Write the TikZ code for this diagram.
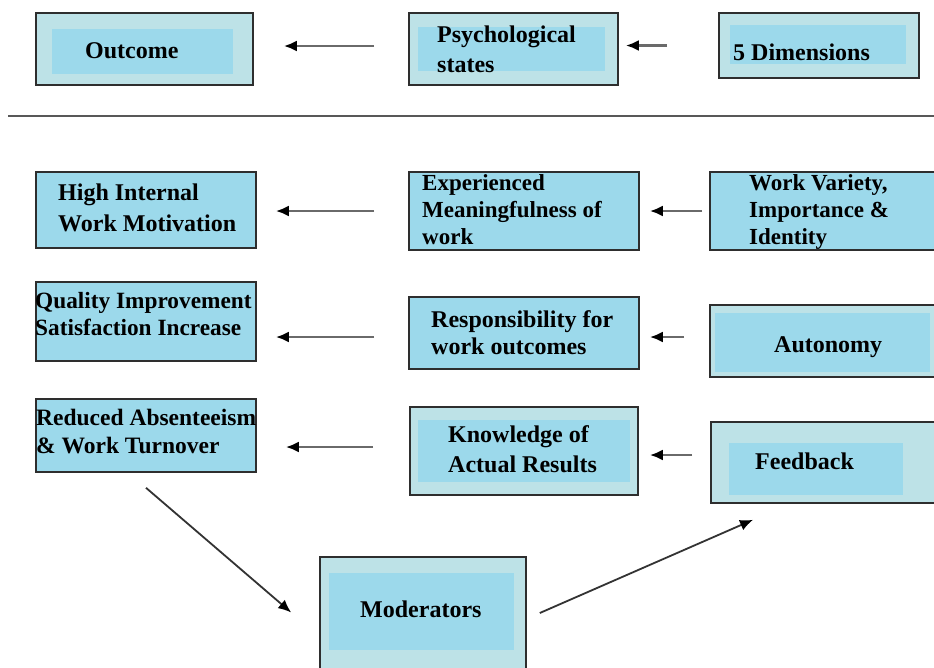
\documentclass[tikz,border=0pt]{standalone}
\usepackage{fontspec}
\setmainfont{Liberation Serif}
\usetikzlibrary{arrows.meta}
\definecolor{paleblue}{HTML}{BDE2E7}
\definecolor{skyblue}{HTML}{9CD9EB}
\definecolor{frame}{HTML}{2E2E2E}
\definecolor{shaft}{HTML}{6A6A6A}
\definecolor{dshaft}{HTML}{333333}
\tikzset{
  boxp/.style={draw=frame, line width=1.6pt, fill=paleblue, inner sep=0pt},
  boxb/.style={draw=frame, line width=1.6pt, fill=skyblue, inner sep=0pt},
  innerfill/.style={fill=skyblue},
  lbl/.style={anchor=base west, inner sep=0pt, align=left, text=black,
              font=\fontsize{24}{27}\selectfont\bfseries},
  arr/.style={draw=shaft, line width=2.8pt, -{Latex[length=13pt,width=11pt,color=black]}},
  darr/.style={draw=dshaft, line width=1.8pt, -{Latex[length=13pt,width=11pt,color=black]}}
}
\begin{document}
\begin{tikzpicture}[x=1pt,y=-1pt]
\useasboundingbox (0,0) rectangle (934,667);
\fill[white] (0,0) rectangle (934,667);
% top row
\node[boxp, minimum width=217pt, minimum height=72pt] (outcome) at (144.5,49) {};
\fill[innerfill] (52,29) rectangle (233,74);
\node[lbl] (toutcome) at (85,58) {Outcome};

\node[boxp, minimum width=209pt, minimum height=72pt] (psych) at (513.5,49) {};
\fill[innerfill] (418,27) rectangle (605,71);
\node[lbl, font=\fontsize{24}{30}\selectfont\bfseries] (tpsych) at (437,72) {Psychological\\states};

\node[boxp, minimum width=200pt, minimum height=65pt] (dims) at (819,45.5) {};
\fill[innerfill] (730,25) rectangle (906,64);
\node[lbl] (tdims) at (733,60) {5 Dimensions};

% separator
\draw[line width=2pt, draw=frame!80] (8,116) -- (934,116);

% row 2
\node[boxb, minimum width=220pt, minimum height=76pt] (high) at (146,210) {};
\node[lbl, font=\fontsize{24}{31}\selectfont\bfseries] (thigh) at (58,231) {High Internal\\Work Motivation};

\node[boxb, minimum width=230pt, minimum height=78pt] (exper) at (524,211) {};
\node[lbl, font=\fontsize{23}{27}\selectfont\bfseries] (texper) at (422,244) {Experienced\\Meaningfulness of\\work};

\node[boxb, minimum width=235pt, minimum height=78pt] (variety) at (827.5,211) {};
\node[lbl, font=\fontsize{23}{27}\selectfont\bfseries] (tvariety) at (749,244) {Work Variety,\\Importance \&\\Identity};

% row 3
\node[boxb, minimum width=220pt, minimum height=79pt] (quality) at (146,321.5) {};
\node[lbl, font=\fontsize{23.3}{27}\selectfont\bfseries] (tquality) at (35,335) {Quality Improvement\\Satisfaction Increase};

\node[boxb, minimum width=230pt, minimum height=72pt] (resp) at (524,333) {};
\node[lbl] (tresp) at (431,354) {Responsibility for\\work outcomes};

\node[boxp, minimum width=235pt, minimum height=72pt] (auton) at (827.5,341) {};
\fill[innerfill] (715,313) rectangle (930,372);
\node[lbl] (tauton) at (774,352) {Autonomy};

% row 4
\node[boxb, minimum width=220pt, minimum height=73pt] (reduced) at (146,435.5) {};
\node[lbl, font=\fontsize{23.5}{28}\selectfont\bfseries] (treduced) at (36,453) {Reduced Absenteeism\\\& Work Turnover};

\node[boxp, minimum width=228pt, minimum height=88pt] (know) at (524,451) {};
\fill[innerfill] (418,420) rectangle (630,482);
\node[lbl, font=\fontsize{24}{30}\selectfont\bfseries] (tknow) at (448,472) {Knowledge of\\Actual Results};

\node[boxp, minimum width=234pt, minimum height=81pt] (feed) at (828,462.5) {};
\fill[innerfill] (729,443) rectangle (903,495);
\node[lbl] (tfeed) at (755,469) {Feedback};

% moderators
\node[boxp, minimum width=206pt, minimum height=123pt] (moder) at (423,618.5) {};
\fill[innerfill] (329,573) rectangle (514,650);
\node[lbl] (tmoder) at (360,617) {Moderators};

% arrows
\draw[arr, shorten <=34pt, shorten >=30pt] ([yshift=3pt]psych.west) -- ([yshift=3pt]outcome.east);
\draw[arr, shorten <=51pt, shorten >=7pt] (dims.west) -- (psych.east |- dims.west);
\draw[arr, shorten <=34pt, shorten >=19pt] (exper.west) -- (high.east |- exper.west);
\draw[arr, shorten <=7pt, shorten >=10pt] (variety.west) -- (exper.east);
\draw[arr, shorten <=34pt, shorten >=19pt] ([yshift=-4pt]resp.west) -- ([yshift=-4pt]quality.east |- resp.west);
\draw[arr, shorten <=25pt, shorten >=10pt] ([yshift=4pt]auton.west) -- ([yshift=-4pt]resp.east);
\draw[arr, shorten <=36pt, shorten >=29pt] ([yshift=4pt]know.west) -- ([yshift=4pt]reduced.east |- know.west);
\draw[arr, shorten <=18pt, shorten >=11pt] ([yshift=7.5pt]feed.west) -- ([yshift=-4pt]know.east);
\draw[darr] ([yshift=-15pt]reduced.south) -- ([xshift=-28pt,yshift=6pt]moder.west);
\draw[darr] ([xshift=13pt,yshift=5.5pt]moder.east) -- ([xshift=-75pt,yshift=-16pt]feed.south);
\end{tikzpicture}
\end{document}
